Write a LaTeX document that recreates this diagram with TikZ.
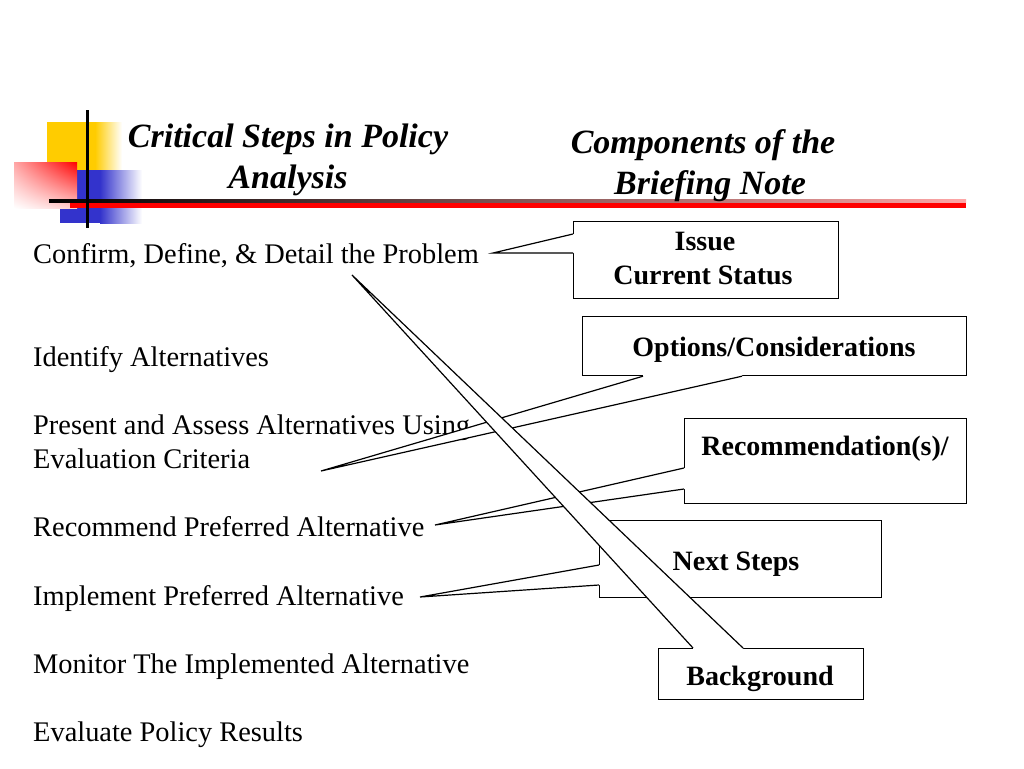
\documentclass[tikz,border=0pt]{standalone}
\usepackage{fontspec}
\setmainfont{Liberation Serif}
\usetikzlibrary{shadings}
\definecolor{gold}{RGB}{255,204,0}
\definecolor{ppblue}{RGB}{51,51,204}
\tikzset{
  itemtxt/.style={anchor=base west,inner sep=0pt,font=\fontsize{28.4}{34}\selectfont},
  headtxt/.style={anchor=base,inner sep=0pt,font=\fontsize{34}{41}\selectfont\bfseries\itshape},
  boxtxt/.style={anchor=base,inner sep=0pt,font=\fontsize{28}{34}\selectfont\bfseries},
  notebox/.style={draw,fill=white,line width=1.2pt,inner sep=0pt,anchor=north west},
  callline/.style={line width=1.2pt,line join=miter}
}
\begin{document}
\begin{tikzpicture}[x=1pt,y=-1pt]
\useasboundingbox[fill=white] (0,0) rectangle (1024,768);
% corner ornament
\fill[gold] (47,122) rectangle (95,170);
\shade[left color=gold,right color=white] (95,122) rectangle (122,170);
\fill[ppblue] (60,170) rectangle (100,223);
\shade[left color=ppblue,right color=white] (100,170) rectangle (142,223);
\shade[upper right=red,upper left=red!35,lower left=white,lower right=red!20] (14,162) rectangle (77,208);
\shade[left color=black,middle color=red!55!black,right color=red!35] (49,199.5) rectangle (966,202.5);
\fill[red] (70,203) rectangle (966,208);
\draw[line width=3pt] (87,110) -- (87,228);
% headings
\node[headtxt] (ttlA) at (288,147) {Critical Steps in Policy};
\node[headtxt] (ttlB) at (288,188) {Analysis};
\node[headtxt] (ttlC) at (703,153) {Components of the};
\node[headtxt] (ttlD) at (710,194) {Briefing Note};
% steps
\foreach \n/\y/\t in {1/263/{Confirm, Define, \& Detail the Problem},
  2/366/{Identify Alternatives},
  3/434/{Present and Assess Alternatives Using},
  4/468/{Evaluation Criteria},
  5/536/{Recommend Preferred Alternative},
  6/605/{Implement Preferred Alternative},
  7/673/{Monitor The Implemented Alternative},
  8/741/{Evaluate Policy Results}}
  \node[itemtxt] (step\n) at (33,\y) {\t};
% Issue
\node[notebox,minimum width=265pt,minimum height=77pt] (issue) at (573,221) {};
\coordinate (issuetip) at (493,253);
\path (issue.north west) ++(0,13) coordinate (issueA) ++(0,19) coordinate (issueB);
\fill[white] (issueA) -- (issuetip) -- (issueB) -- ([xshift=2pt]issueB) -- ([xshift=2pt]issueA) -- cycle;
\draw[callline] (issueA) -- (issuetip) -- (issueB);
\node[boxtxt] (issuetxt) at (705,250) {Issue};
\node[boxtxt] (statustxt) at (703,284) {Current Status};
% Options
\node[notebox,minimum width=384pt,minimum height=59pt] (opts) at (582,316) {};
\coordinate (optstip) at (321,471);
\path (opts.south west) ++(61,0) coordinate (optsA) ++(99,0) coordinate (optsB);
\fill[white] (optsA) -- (optstip) -- (optsB) -- ([yshift=2pt]optsB) -- ([yshift=2pt]optsA) -- cycle;
\draw[callline] (optsA) -- (optstip) -- (optsB);
\node[boxtxt] (optstxt) at (774,356) {Options/Considerations};
% Recommendation
\node[notebox,minimum width=282pt,minimum height=85pt] (recom) at (684,418) {};
\coordinate (recomtip) at (435,525);
\path (recom.north west) ++(0,50) coordinate (recomA) ++(0,21) coordinate (recomB);
\fill[white] (recomA) -- (recomtip) -- (recomB) -- ([xshift=2pt]recomB) -- ([xshift=2pt]recomA) -- cycle;
\draw[callline] (recomA) -- (recomtip) -- (recomB);
\node[boxtxt] (recomtxt) at (825,455) {Recommendation(s)/};
% Next Steps
\node[notebox,minimum width=282pt,minimum height=77pt] (next) at (599,520) {};
\coordinate (nexttip) at (420,597);
\path (next.north west) ++(0,45) coordinate (nextA) ++(0,20) coordinate (nextB);
\fill[white] (nextA) -- (nexttip) -- (nextB) -- ([xshift=2pt]nextB) -- ([xshift=2pt]nextA) -- cycle;
\draw[callline] (nextA) -- (nexttip) -- (nextB);
\node[boxtxt] (nexttxt) at (736,570) {Next Steps};
% Background
\node[notebox,minimum width=205pt,minimum height=51pt] (bg) at (658,648) {};
\coordinate (bgtip) at (352,275);
\path (bg.north west) ++(35,0) coordinate (bgA) ++(50,0) coordinate (bgB);
\fill[white] (bgA) -- (bgtip) -- (bgB) -- ([yshift=-2pt]bgB) -- ([yshift=-2pt]bgA) -- cycle;
\draw[callline] (bgA) -- (bgtip) -- (bgB);
\node[boxtxt] (bgtxt) at (760,685) {Background};
\end{tikzpicture}
\end{document}
